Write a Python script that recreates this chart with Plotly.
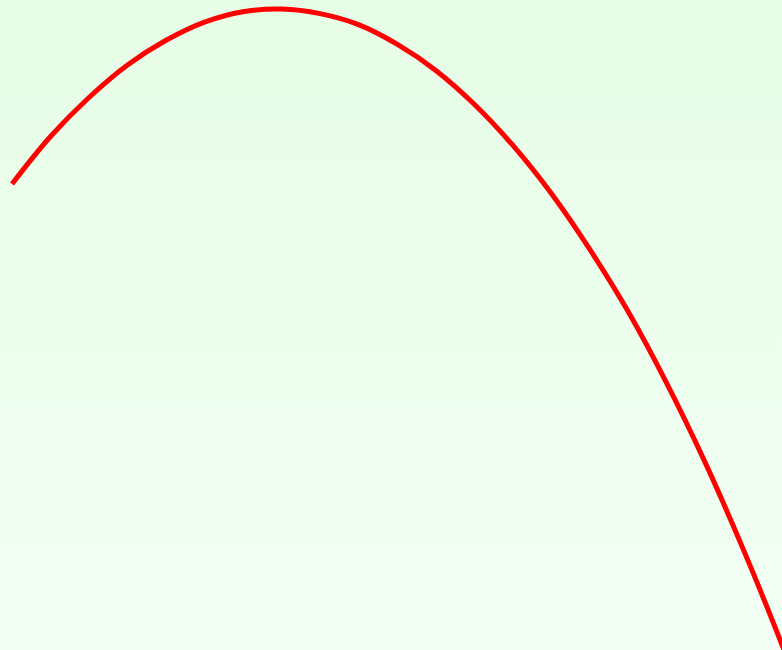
import plotly.graph_objects as go

# Curve samples (x position, height), read at half-unit steps
x_vals = [0.0, 0.5, 1.0, 1.5, 2.0, 2.5, 3.0, 3.5, 4.0, 4.5, 5.0,
          5.5, 6.0, 6.5, 7.0, 7.5, 8.0, 8.5, 9.0, 9.5, 10.0, 10.5]
y_vals = [7.17, 7.90, 8.50, 9.00, 9.38, 9.66, 9.82, 9.86, 9.79, 9.62, 9.32,
          8.92, 8.40, 7.77, 7.03, 6.17, 5.21, 4.11, 2.89, 1.54, 0.08, -1.51]

# Plot window
x_range = [-0.156, 10.0]
y_range = [0.0, 10.0]

bg_top = "rgb(230,253,230)"
bg_bottom = "rgb(243,255,245)"

fig = go.Figure()

# Soft vertical gradient backdrop
fig.add_trace(go.Scatter(
    x=[x_range[0], x_range[1], x_range[1], x_range[0], x_range[0]],
    y=[y_range[0], y_range[0], y_range[1], y_range[1], y_range[0]],
    fill="toself",
    fillgradient=dict(type="vertical",
                      colorscale=[[0, bg_bottom], [1, bg_top]]),
    line=dict(width=0),
    mode="lines",
    hoverinfo="skip",
    showlegend=False,
))

fig.add_trace(go.Scatter(
    x=x_vals, y=y_vals,
    mode="lines",
    line=dict(color="#ff0000", width=5, shape="spline", smoothing=1.0),
    showlegend=False,
))

fig.update_layout(
    width=782, height=650,
    margin=dict(l=0, r=0, t=0, b=0),
    paper_bgcolor=bg_bottom,
    plot_bgcolor=bg_bottom,
    xaxis=dict(range=x_range, visible=False, fixedrange=True),
    yaxis=dict(range=y_range, visible=False, fixedrange=True),
)

fig.write_html("out.html", config={"displayModeBar": False})
